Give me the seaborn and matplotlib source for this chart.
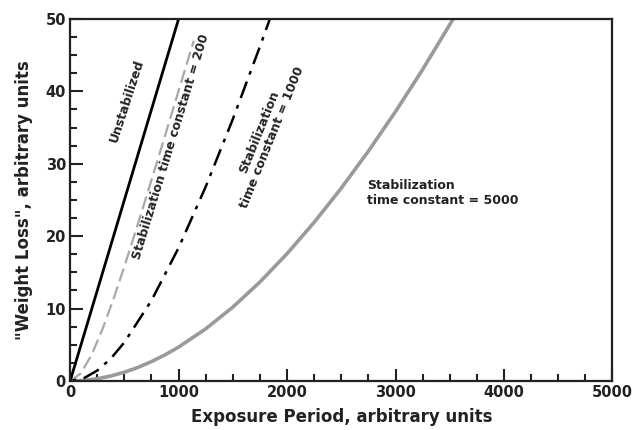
import numpy as np
import pandas as pd
import matplotlib
matplotlib.use("Agg")
import matplotlib.pyplot as plt
from matplotlib.ticker import MultipleLocator
import seaborn as sns

# Data
t_unstab = [0, 1000]
w_unstab = [0, 50]

t_tc200 = [0, 100, 200, 300, 400, 500, 600, 800, 1000, 1140]
w_tc200 = [0, 1.07, 3.68, 7.23, 11.35, 15.82, 20.5, 30.18, 40.07, 47.0]

t_tc1000 = [0, 125, 250, 375, 500, 750, 1000, 1250, 1500, 1750, 1850]
w_tc1000 = [0, 0.37, 1.44, 3.1, 5.33, 11.12, 18.39, 26.83, 36.16, 46.19, 50.36]

t_tc5000 = [0, 125, 250, 375, 500, 625, 750, 875, 1000, 1250, 1500, 1750, 2000, 2250,
            2500, 2750, 3000, 3250, 3540]
w_tc5000 = [0, 0.08, 0.31, 0.69, 1.21, 1.87, 2.68, 3.61, 4.68, 7.20, 10.20, 13.67,
            17.58, 21.91, 26.63, 31.74, 37.20, 43.01, 50.2]

sns.set_theme(style="white")
plt.rcParams['font.family'] = ['DejaVu Sans']

fig, ax = plt.subplots(figsize=(6.32, 4.30), dpi=100)
fig.subplots_adjust(left=0.111, right=0.969, top=0.956, bottom=0.114)

sns.lineplot(x=t_tc5000, y=w_tc5000, ax=ax, color="#9a9a9a", lw=2.6, sort=False)
sns.lineplot(x=t_tc200, y=w_tc200, ax=ax, color="#a8a8a8", lw=1.6, sort=False,
             linestyle=(0, (6, 2.5)))
sns.lineplot(x=t_tc1000, y=w_tc1000, ax=ax, color="black", lw=1.8, sort=False,
             linestyle=(9, (7, 3, 1.5, 3)))
sns.lineplot(x=t_unstab, y=w_unstab, ax=ax, color="black", lw=2.0, sort=False)

ax.set_xlim(0, 5000)
ax.set_ylim(0, 50)
ax.xaxis.set_major_locator(MultipleLocator(1000))
ax.xaxis.set_minor_locator(MultipleLocator(250))
ax.yaxis.set_major_locator(MultipleLocator(10))
ax.yaxis.set_minor_locator(MultipleLocator(2.5))
ax.tick_params(axis="both", which="both", direction="in", top=False, right=False,
               bottom=True, left=True, width=1.5, color="#222222", labelsize=10.5,
               labelcolor="#222222", pad=3)
ax.tick_params(which="major", length=9)
ax.tick_params(which="minor", length=5)
for lab in ax.get_xticklabels() + ax.get_yticklabels():
    lab.set_fontweight("bold")
for s in ax.spines.values():
    s.set_linewidth(1.6)
    s.set_color("#222222")

ax.set_xlabel("Exposure Period, arbitrary units", fontsize=12, fontweight="bold",
              color="#222222", labelpad=6)
ax.set_ylabel('"Weight Loss", arbitrary units', fontsize=12, fontweight="bold",
              color="#222222", labelpad=9)

txt_kw = dict(fontsize=9, fontweight="bold", color="#222222", ha="center", va="center")
ax.text(525, 38.7, "Unstabilized", rotation=72, **txt_kw)
ax.text(930, 32.4, "Stabilization time constant = 200", rotation=73, **txt_kw)
ax.text(1800, 34.0, "Stabilization\ntime constant = 1000", rotation=68,
        linespacing=1.1, **txt_kw)
ax.text(2740, 26.0, "Stabilization\ntime constant = 5000", fontsize=9, fontweight="bold",
        color="#222222", ha="left", va="center", linespacing=1.2)

fig.savefig("out.png", dpi=100)
